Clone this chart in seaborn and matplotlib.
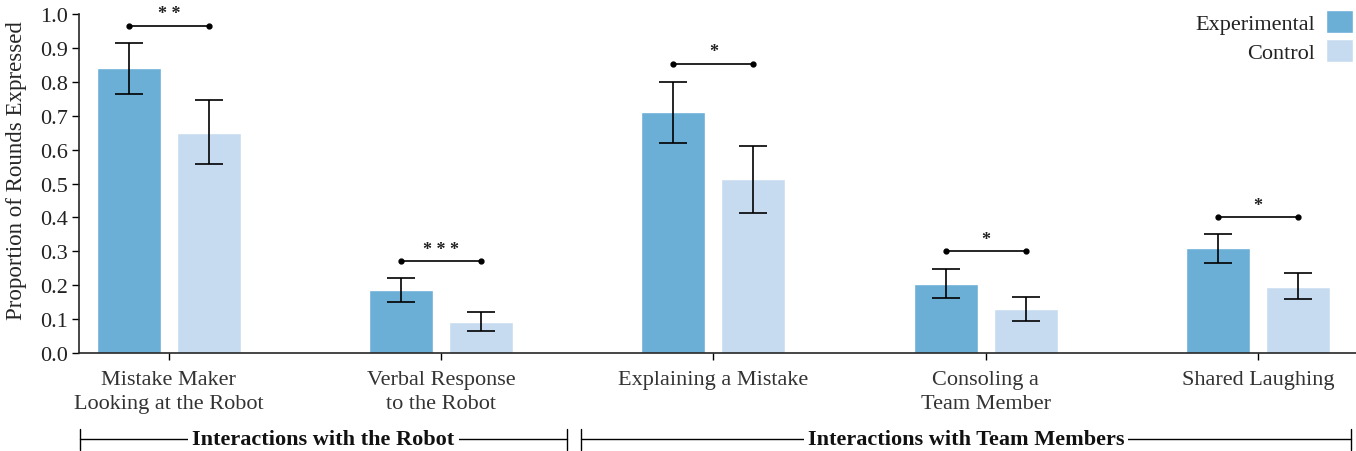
import numpy as np
import pandas as pd
import matplotlib
matplotlib.use("Agg")
import matplotlib.pyplot as plt
import matplotlib.transforms as mtransforms
import seaborn as sns

# Data
categories = ["Mistake Maker\nLooking at the Robot", "Verbal Response\nto the Robot",
              "Explaining a Mistake", "Consoling a\nTeam Member", "Shared Laughing"]
experimental = [0.84, 0.185, 0.71, 0.205, 0.31]
control = [0.65, 0.092, 0.513, 0.13, 0.196]
exp_low = [0.765, 0.150, 0.620, 0.163, 0.266]
exp_high = [0.913, 0.222, 0.800, 0.248, 0.352]
ctrl_low = [0.558, 0.066, 0.413, 0.093, 0.159]
ctrl_high = [0.745, 0.121, 0.612, 0.166, 0.236]
sig_labels = ["**", "***", "*", "*", "*"]
sig_heights = [0.965, 0.271, 0.853, 0.301, 0.401]
group_names = ["Interactions with the Robot", "Interactions with Team Members"]

sns.set_style("ticks")
plt.rcParams['font.family'] = ['Liberation Serif', 'DejaVu Serif']
plt.rcParams['text.color'] = '#222222'

df = pd.DataFrame({
    "category": categories * 2,
    "value": experimental + control,
    "condition": ["Experimental"] * 5 + ["Control"] * 5,
})
palette = {"Experimental": "#6BAED6", "Control": "#C6DBEF"}

fig = plt.figure(figsize=(13.56, 4.52), dpi=100)
ax = fig.add_axes([0.0583, 0.2168, 0.9417, 0.75])

sns.barplot(data=df, x="category", y="value", hue="condition", palette=palette,
            errorbar=None, width=0.588, gap=0.2, saturation=1, ax=ax)

off = 0.147
x = np.arange(len(categories))
exp_v = np.array(experimental)
ctl_v = np.array(control)
ax.errorbar(x - off, exp_v, yerr=[exp_v - np.array(exp_low), np.array(exp_high) - exp_v],
            fmt="none", ecolor="black", elinewidth=1.2, capsize=10, capthick=1.2)
ax.errorbar(x + off, ctl_v, yerr=[ctl_v - np.array(ctrl_low), np.array(ctrl_high) - ctl_v],
            fmt="none", ecolor="black", elinewidth=1.2, capsize=10, capthick=1.2)

# significance brackets
for i, (lab, h) in enumerate(zip(sig_labels, sig_heights)):
    ax.plot([i - off, i + off], [h, h], color="black", lw=1.2, marker="o", ms=3.5)
    ax.text(i, h + 0.01, " ".join(lab), ha="center", va="bottom", fontsize=13,
            fontweight="bold", color="#222222")

ax.set_xlim(-0.33, 4.36)
ax.set_ylim(0, 1.0)
ax.set_yticks(np.arange(0, 1.01, 0.1))
ax.set_yticklabels([f"{v:.1f}" for v in np.arange(0, 1.01, 0.1)], fontsize=16)
ax.set_xticks(x)
ax.set_xticklabels(categories, fontsize=16, linespacing=1.4)
ax.set_xlabel("")
ax.set_ylabel("Proportion of Rounds Expressed", fontsize=16.5)
ax.yaxis.set_label_coords(-0.041, 0.54)
ax.tick_params(axis="both", colors="black", length=5, width=1.0)
ax.tick_params(axis="x", labelcolor="#333333", pad=7)
ax.tick_params(axis="y", labelcolor="#222222", pad=3)
for s in ["left", "bottom"]:
    ax.spines[s].set_linewidth(1.2)
sns.despine(ax=ax)

leg = ax.legend(loc="upper right", bbox_to_anchor=(1.006, 1.045), frameon=False,
                markerfirst=False, fontsize=16, handlelength=1.2, handleheight=1.2,
                handletextpad=0.5, labelspacing=0.25, borderaxespad=0.1)
for t in leg.get_texts():
    t.set_ha("right")

# group brackets below the axis
trans = mtransforms.blended_transform_factory(ax.transData, ax.transAxes)
yb = -0.255
spans = [(-0.327, 1.463), (1.515, 4.34)]
for (a, b), name in zip(spans, group_names):
    mid = (a + b) / 2
    ax.text(mid, yb, name, transform=trans, ha="center", va="center", fontsize=16,
            fontweight="bold", color="#111111",
            bbox=dict(facecolor="white", edgecolor="none", pad=3))
    ax.plot([a, b], [yb, yb], transform=trans, color="black", lw=1.0, clip_on=False, zorder=0)
    for e in (a, b):
        ax.plot([e, e], [yb - 0.03, yb + 0.03], transform=trans, color="black", lw=1.0, clip_on=False)

fig.savefig("out.png", dpi=100)
